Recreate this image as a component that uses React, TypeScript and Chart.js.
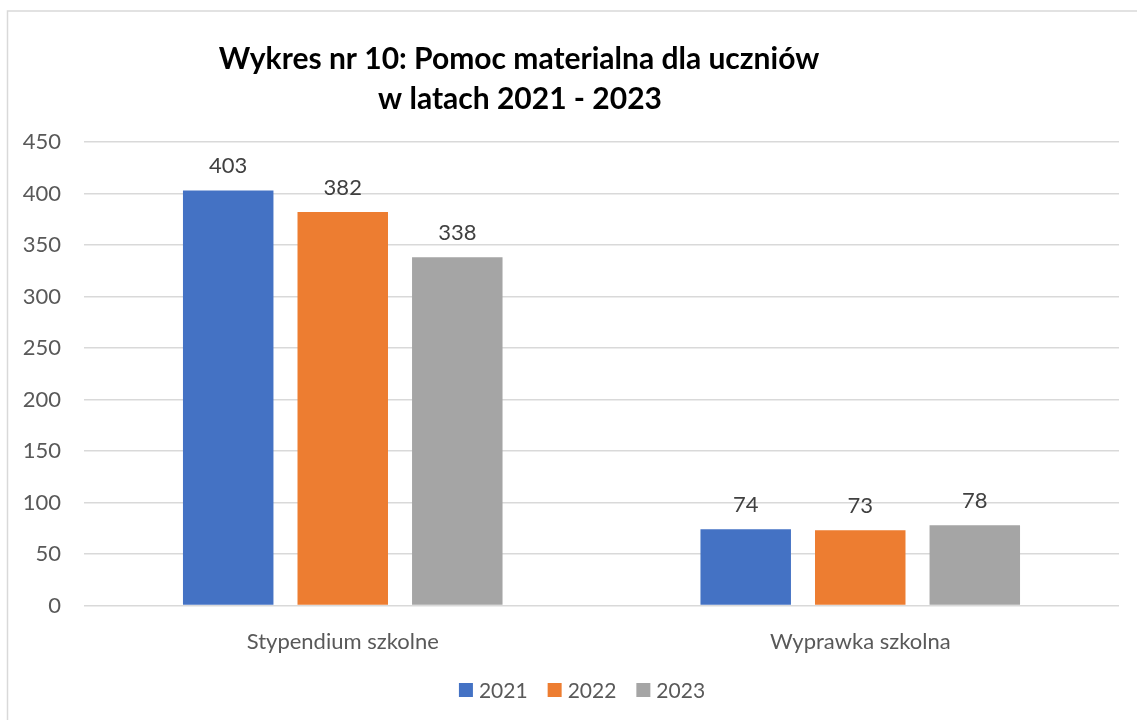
import React, { useEffect, useRef } from 'react';
import { Chart, registerables } from 'chart.js';

Chart.register(...registerables);

const categories = ['Stypendium szkolne', 'Wyprawka szkolna'];
const seriesLabels = ['2021', '2022', '2023'];
const values2021 = [403, 74];
const values2022 = [382, 73];
const values2023 = [338, 78];
const seriesColors = ['#4472C4', '#ED7D31', '#A5A5A5'];
const titleLines = ['Wykres nr 10: Pomoc materialna dla uczniów', 'w latach 2021 - 2023'];
const yMin = 0;
const yMax = 450;
const yStep = 50;

const FONT = 'Lato, "Open Sans", sans-serif';
const TEXT_SIZE = 22;

const framePlugin = {
  id: 'frame',
  beforeDraw(chart: any) {
    const ctx = chart.ctx;
    ctx.save();
    ctx.fillStyle = '#ffffff';
    ctx.fillRect(0, 0, chart.width, chart.height);
    ctx.strokeStyle = '#d9d9d9';
    ctx.lineWidth = 1.5;
    ctx.strokeRect(7.5, 11, chart.width + 20, chart.height + 20);
    ctx.restore();
  },
};

const titlePlugin = {
  id: 'customTitle',
  afterDraw(chart: any) {
    const ctx = chart.ctx;
    ctx.save();
    ctx.fillStyle = '#000000';
    ctx.font = `bold 30px ${FONT}`;
    ctx.textAlign = 'center';
    ctx.textBaseline = 'alphabetic';
    ctx.fillText(titleLines[0], 519, 69);
    ctx.fillText(titleLines[1], 520, 109);
    ctx.restore();
  },
};

const dataLabelPlugin = {
  id: 'dataLabels',
  afterDatasetsDraw(chart: any) {
    const ctx = chart.ctx;
    ctx.save();
    ctx.fillStyle = '#404040';
    ctx.font = `${TEXT_SIZE}px ${FONT}`;
    ctx.textAlign = 'center';
    ctx.textBaseline = 'alphabetic';
    chart.data.datasets.forEach((ds: any, i: number) => {
      const meta = chart.getDatasetMeta(i);
      meta.data.forEach((bar: any, j: number) => {
        ctx.fillText(String(ds.data[j]), bar.x, bar.y - 17);
      });
    });
    ctx.restore();
  },
};

const legendPlugin = {
  id: 'customLegend',
  afterDraw(chart: any) {
    const ctx = chart.ctx;
    ctx.save();
    ctx.font = `21px ${FONT}`;
    const box = 14;
    const gapText = 6;
    const gapItem = 20;
    const widths = seriesLabels.map((l) => ctx.measureText(l).width);
    const total = widths.reduce((a, w) => a + box + gapText + w, 0) + gapItem * (seriesLabels.length - 1);
    let x = 582 - total / 2;
    const yc = 690;
    seriesLabels.forEach((l, i) => {
      ctx.fillStyle = seriesColors[i];
      ctx.fillRect(x, yc - box / 2, box, box);
      ctx.fillStyle = '#595959';
      ctx.textAlign = 'left';
      ctx.textBaseline = 'middle';
      ctx.fillText(l, x + box + gapText, yc + 1);
      x += box + gapText + widths[i] + gapItem;
    });
    ctx.restore();
  },
};

export default function App() {
  const ref = useRef<HTMLCanvasElement | null>(null);
  useEffect(() => {
    if (!ref.current) return;
    const seriesValues = [values2021, values2022, values2023];
    const chart = new Chart(ref.current, {
      type: 'bar',
      data: {
        labels: categories,
        datasets: seriesLabels.map((label, i) => ({
          label,
          data: seriesValues[i],
          backgroundColor: seriesColors[i],
          borderWidth: 0,
          categoryPercentage: 0.664,
          barPercentage: 0.79,
        })),
      },
      options: {
        responsive: false,
        animation: false,
        layout: { padding: { top: 142, right: 18, left: 0, bottom: 0 } },
        plugins: {
          legend: { display: false },
          title: { display: false },
          tooltip: { enabled: false },
        },
        scales: {
          x: {
            grid: { display: false },
            border: { display: false },
            ticks: { color: '#595959', font: { family: FONT, size: TEXT_SIZE }, padding: 15 },
            afterFit(scale: any) {
              scale.height = 114.5;
            },
          },
          y: {
            min: yMin,
            max: yMax,
            grid: { color: '#d9d9d9', lineWidth: 1.5, drawTicks: false },
            border: { display: false },
            ticks: {
              stepSize: yStep,
              color: '#595959',
              font: { family: FONT, size: TEXT_SIZE },
              padding: 23,
            },
            afterFit(scale: any) {
              scale.width = 84;
            },
          },
        },
      },
      plugins: [framePlugin, titlePlugin, dataLabelPlugin, legendPlugin],
    });
    return () => chart.destroy();
  }, []);
  return (
    <div style={{ position: 'absolute', left: 0, top: 0, width: 1137, height: 720 }}>
      <canvas ref={ref} width={1137} height={720} />
    </div>
  );
}
